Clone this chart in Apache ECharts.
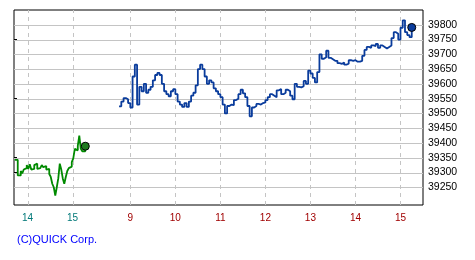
<!DOCTYPE html>
<html><head><meta charset="utf-8">
<script src="https://cdn.jsdelivr.net/npm/echarts@6/dist/echarts.min.js"></script>
<style>html,body{margin:0;padding:0;background:#fff}#c{width:475px;height:260px}</style>
</head><body><div id="c"></div>
<script>
// previous day's session (last part), 2-minute samples
const prevStart = '13:43';
const prevStep = 2;
const prevValues = [39343,39343,39290,39290,39305,39297,39310,39315,39325,39312,
  39328,39310,39312,39325,39330,39312,39315,39312,39325,39318,
  39322,39310,39312,39295,39285,39262,39250,39222,39250,39280,
  39330,39310,39280,39262,39285,39305,39315,39320,39335,39348,
  39380,39375,39390,39425,39380,39372,39372,39389];
// today's session, 3-minute samples
const todayStart = '08:45';
const todayStep = 3;
const todayValues = [39524,39540,39552,39548,39535,39520,39625,39665,39530,39590,
  39575,39600,39570,39580,39590,39612,39630,39637,39630,39600,
  39575,39565,39558,39575,39582,39565,39540,39530,39522,39535,
  39522,39540,39560,39570,39595,39650,39665,39650,39625,39600,
  39612,39605,39585,39575,39565,39555,39530,39500,39525,39530,
  39528,39545,39550,39565,39580,39568,39555,39525,39490,39520,
  39525,39532,39530,39535,39537,39545,39555,39565,39560,39555,
  39578,39583,39565,39570,39580,39575,39560,39548,39600,39590,
  39588,39592,39610,39600,39645,39635,39620,39605,39640,39700,
  39685,39690,39712,39688,39683,39678,39678,39670,39668,39672,
  39665,39668,39680,39678,39680,39675,39675,39678,39695,39715,
  39725,39722,39730,39728,39735,39722,39730,39725,39720,39725,
  39730,39755,39775,39770,39750,39790,39815,39775,39765,39758,39791];
const prevHours = [14, 15];
const todayHours = [9, 10, 11, 12, 13, 14, 15];
const yTicks = [39250,39300,39350,39400,39450,39500,39550,39600,39650,39700,39750,39800];
const yMin = 39190, yMax = 39850;
const xMin = 0, xMax = 545;
const copyright = '(C)QUICK Corp.';

function mins(s){ const p = s.split(':').map(Number); return p[0]*60 + p[1]; }
// one time axis, overnight gap collapsed
function prevPos(m){ return 18 + (m - 840); }
function todayPos(m){ return 155 + (m - 540); }
const prevData = prevValues.map((v,i)=>[prevPos(mins(prevStart)+i*prevStep), v]);
const todayData = todayValues.map((v,i)=>[todayPos(mins(todayStart)+i*todayStep), v]);
const prevTickPos = prevHours.map(h=>prevPos(h*60));
const todayTickPos = todayHours.map(h=>todayPos(h*60));
const xTicks = prevTickPos.concat(todayTickPos);
const xText = {};
prevHours.forEach((h,i)=>{ xText[prevTickPos[i]] = '{p|'+h+'}'; });
todayHours.forEach((h,i)=>{ xText[todayTickPos[i]] = '{t|'+h+'}'; });

function vGridRender(params, api){
  const v = api.value(0);
  const p1 = api.coord([v, yMin]);
  const p2 = api.coord([v, yMax]);
  const x = Math.round(p1[0]) + 0.5;
  return {type:'line', silent:true,
    shape:{x1:x, y1:p1[1], x2:x, y2:p2[1]},
    style:{stroke:'#c4c4c4', lineWidth:1, lineDash:[4,4]}};
}

const font = '"Liberation Sans",Arial,sans-serif';
const chart = echarts.init(document.getElementById('c'), null, {renderer:'canvas'});
chart.setOption({
  animation:false,
  backgroundColor:'#fff',
  grid:{left:14, right:52, top:10, bottom:55, show:true, borderColor:'#000', borderWidth:1},
  xAxis:{type:'value', min:xMin, max:xMax,
    axisLine:{show:false},
    axisTick:{show:false},
    splitLine:{show:false},
    axisLabel:{customValues:xTicks, margin:8, fontFamily:font, fontSize:10,
      formatter:v=>xText[v]||'',
      rich:{p:{color:'#007878', fontFamily:font, fontSize:10}, t:{color:'#a00000', fontFamily:font, fontSize:10}}}
  },
  yAxis:{type:'value', position:'right', min:yMin, max:yMax,
    axisLine:{show:false},
    axisTick:{show:true, inside:false, length:3, customValues:yTicks, lineStyle:{color:'#000'}},
    splitLine:{show:false},
    axisLabel:{customValues:yTicks, margin:5, color:'#000', fontFamily:font, fontSize:10.5, formatter:v=>String(v)}
  },
  series:[
    {type:'custom', data:xTicks.map(v=>[v, yMin]), renderItem:vGridRender, silent:true, z:1, clip:false},
    {type:'line', data:prevData, step:'end', showSymbol:false, lineStyle:{color:'#008a00', width:1.8}, z:3},
    {type:'line', data:todayData, step:'end', showSymbol:false, lineStyle:{color:'#0a3c9c', width:1.8}, z:3},
    {type:'scatter', data:[prevData[prevData.length-1]], symbolSize:8,
      itemStyle:{color:'#1f7a1f', borderColor:'#000', borderWidth:1, opacity:1}, z:4},
    {type:'scatter', data:[todayData[todayData.length-1]], symbolSize:8,
      itemStyle:{color:'#0a3c9c', borderColor:'#000', borderWidth:1, opacity:1}, z:4}
  ],
  graphic:[{type:'text', left:17, top:234, style:{text:copyright, fill:'#0000ff', font:'11px "Liberation Sans",Arial,sans-serif'}}]
});

// horizontal grid lines: positions come from the y axis scale via convertToPixel
const hLines = yTicks.map(v=>{
  const a = chart.convertToPixel({gridIndex:0}, [xMin, v]);
  const b = chart.convertToPixel({gridIndex:0}, [xMax, v]);
  const y = Math.round(a[1]);
  return {type:'rect', silent:true, z:1, shape:{x:a[0], y:y, width:b[0]-a[0], height:1},
    style:{fill:'#c4c4c4'}};
});
chart.setOption({graphic:[
  {type:'text', left:17, top:234, style:{text:copyright, fill:'#0000ff', font:'11px "Liberation Sans",Arial,sans-serif'}},
  ...hLines
]});
</script></body></html>
